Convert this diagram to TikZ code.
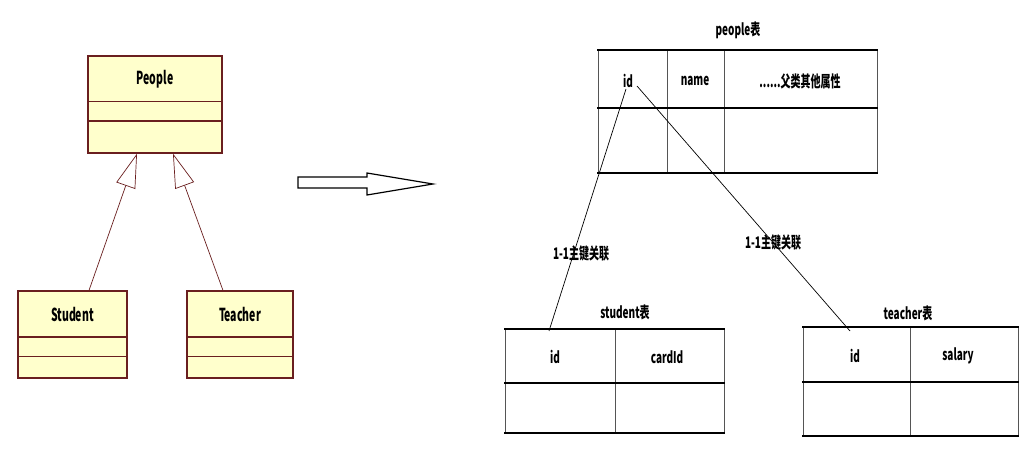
\documentclass[tikz,border=0pt]{standalone}
\usepackage{fontspec}
\setmainfont{Liberation Sans}
\newfontfamily\cjk{Noto Sans CJK SC}
\usetikzlibrary{arrows.meta}
\newcommand\tallt[2][1.6]{\scalebox{1}[#1]{#2}}
\definecolor{umlfill}{HTML}{FFFFCC}
\definecolor{umlline}{HTML}{6A1F1F}
\definecolor{cellline}{HTML}{555555}
\tikzset{
  umlbox/.style={draw=umlline, line width=1.2pt, fill=umlfill, rectangle, inner sep=0pt},
  umlsep/.style={draw=umlline, line width=1pt},
  umlsepthick/.style={draw=umlline, line width=2pt},
  genline/.style={draw=umlline, line width=0.7pt, -{Triangle[open, length=34pt, width=20pt, fill=white]}},
  lbl/.style={font=\cjk\bfseries\fontsize{10}{12}\selectfont, inner sep=0pt, text=black},
  umllbl/.style={font=\cjk\bfseries\fontsize{10.5}{12}\selectfont, inner sep=0pt, text=black},
  hrule/.style={draw=black, line width=2pt},
  vrule/.style={draw=cellline, line width=1pt},
  link/.style={draw=black, line width=0.7pt},
}
\begin{document}
\begin{tikzpicture}[x=1pt, y=-1pt]
\useasboundingbox (0,0) rectangle (1024,473);
\fill[white] (0,0) rectangle (1024,473);

% UML classes
\node[umlbox, minimum width=134pt, minimum height=97pt] (people) at (155,104.5) {};
\draw[umlsep] (88,102) -- (222,102);
\draw[umlsepthick] (88,121) -- (222,121);
\node[umllbl] (peopleL) at (155,79) {\tallt[1.7]{People}};

\node[umlbox, minimum width=109pt, minimum height=87pt] (student) at (72.5,334.5) {};
\draw[umlsepthick] (18,337) -- (127,337);
\draw[umlsep] (18,356) -- (127,356);
\node[umllbl] (studentL) at (72.5,314) {\tallt[1.7]{Student}};

\node[umlbox, minimum width=106pt, minimum height=87pt] (teacher) at (240,334.5) {};
\draw[umlsepthick] (187,337) -- (293,337);
\draw[umlsep] (187,356) -- (293,356);
\node[umllbl] (teacherL) at (240,314) {\tallt[1.7]{Teacher}};

\draw[genline] ([xshift=16.5pt]student.north) -- ([xshift=-18pt]people.south);
\draw[genline] ([xshift=-17pt]teacher.north) -- ([xshift=18pt]people.south);

% big hollow arrow
\draw[line width=1.2pt, fill=white] (298,177) -- (367,177) -- (367,173) -- (433,184) -- (367,195) -- (367,188) -- (298,188) -- cycle;

% people table
\node[lbl] (ptitle) at (738,30) {\tallt{people表}};
\draw[vrule] (598,50) -- (598,173);
\draw[vrule] (667,50) -- (667,173);
\draw[vrule] (724,50) -- (724,173);
\draw[vrule] (877,50) -- (877,173);
\draw[hrule] (597,50) -- (878,50);
\draw[hrule] (597,108) -- (878,108);
\draw[hrule] (597,173) -- (878,173);
\node[lbl] (pid) at (628,81) {\tallt{id}};
\node[lbl] (pname) at (695,81) {\tallt{name}};
\node[lbl] (pother) at (800,81) {\tallt{......父类其他属性}};

% student table
\node[lbl] (stitle) at (625,312) {\tallt{student表}};
\draw[vrule] (505,329) -- (505,433);
\draw[vrule] (615,329) -- (615,433);
\draw[vrule] (724,329) -- (724,433);
\draw[hrule] (504,329) -- (725,329);
\draw[hrule] (504,383) -- (725,383);
\draw[hrule] (504,433) -- (725,433);
\node[lbl] (sid) at (555,357) {\tallt{id}};
\node[lbl] (scard) at (667,357) {\tallt{cardId}};

% teacher table
\node[lbl] (ttitle) at (908,313) {\tallt{teacher表}};
\draw[vrule] (803,327) -- (803,436);
\draw[vrule] (910,327) -- (910,436);
\draw[vrule] (1018,327) -- (1018,436);
\draw[hrule] (802,327) -- (1019,327);
\draw[hrule] (802,382) -- (1019,382);
\draw[hrule] (802,436) -- (1019,436);
\node[lbl] (tid) at (855,356) {\tallt{id}};
\node[lbl] (tsal) at (958,356) {\tallt{salary}};

% one-to-one links
\coordinate (p1) at (626,89);
\coordinate (s1) at (549,331);
\coordinate (p2) at (637,86);
\coordinate (t1) at (850,331);
\draw[link] (p1) -- (s1);
\draw[link] (p2) -- (t1);
\node[lbl] (l1) at (581,253) {\tallt{1-1主键关联}};
\node[lbl] (l2) at (773,242) {\tallt{1-1主键关联}};
\end{tikzpicture}
\end{document}
